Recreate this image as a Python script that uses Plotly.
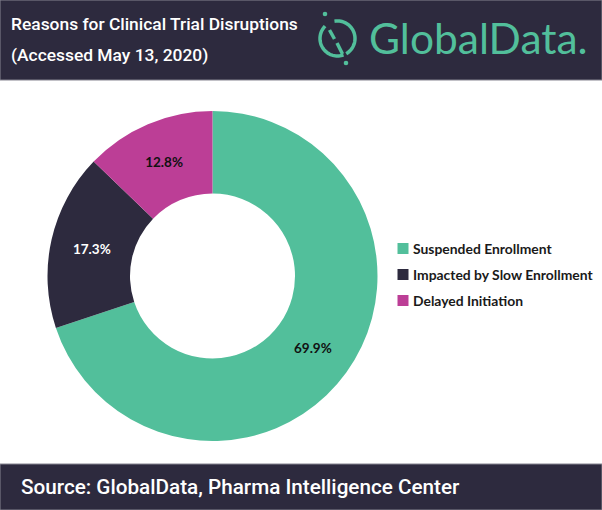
import numpy as np
import plotly.graph_objects as go

labels = ["Suspended Enrollment", "Impacted by Slow Enrollment", "Delayed Initiation"]
values = [69.9, 17.3, 12.8]
text_labels = ["69.9%", "17.3%", "12.8%"]
colors = ["#52BF9B", "#2D2A3E", "#BC3E96"]
label_colors = ["#111111", "#FFFFFF", "#111111"]

W, H = 602, 510
BG = "#2D2A3E"
GREEN = "#52BF9B"

def px(x):
    return x / W

def py(y):
    return 1 - y / H

cx, cy, R = 212.5, 276, 165

fig = go.Figure()
fig.add_trace(go.Pie(
    labels=labels, values=values, text=text_labels, textinfo="text",
    textposition="inside", insidetextorientation="horizontal",
    hole=0.5, sort=False, direction="clockwise", rotation=0,
    marker=dict(colors=colors, line=dict(width=0)),
    textfont=dict(color=label_colors, size=13.5, family="Lato", weight="bold"),
    domain=dict(x=[px(cx - R), px(cx + R)], y=[py(cy + R), py(cy - R)]),
    showlegend=False, hoverinfo="label+percent",
))

shapes = [
    dict(type="rect", xref="paper", yref="paper", x0=0, x1=1, y0=py(80), y1=1,
         fillcolor=BG, line=dict(color="#85838f", width=1), layer="below"),
    dict(type="rect", xref="paper", yref="paper", x0=0, x1=1, y0=0, y1=py(464),
         fillcolor=BG, line=dict(color="#85838f", width=1), layer="below"),
]

# logo icon: broken circle with slanted stroke and two dots
icx, icy, ir = 337.5, 38.5, 17.5
def arc(a0, a1, n=40):
    t = np.radians(np.linspace(a0, a1, n))
    xs = icx + ir * np.cos(t)
    ys = icy - ir * np.sin(t)
    return "M " + " L ".join(f"{px(x):.5f},{py(y):.5f}" for x, y in zip(xs, ys))

shapes.append(dict(type="path", xref="paper", yref="paper", path=arc(135, 290),
                   line=dict(color=GREEN, width=3.5)))
shapes.append(dict(type="path", xref="paper", yref="paper", path=arc(300, 460),
                   line=dict(color=GREEN, width=3.5)))
for (x0, y0, x1, y1) in [(329.5, 30, 334.5, 39), (337, 43, 342.5, 54)]:
    shapes.append(dict(type="line", xref="paper", yref="paper",
                       x0=px(x0), y0=py(y0), x1=px(x1), y1=py(y1),
                       line=dict(color=GREEN, width=3.5)))
for (dx, dy) in [(325, 14), (346, 63)]:
    shapes.append(dict(type="circle", xref="paper", yref="paper",
                       x0=px(dx - 2.3), x1=px(dx + 2.3), y0=py(dy + 2.3), y1=py(dy - 2.3),
                       fillcolor=GREEN, line=dict(width=0)))

annotations = [
    dict(text="Reasons for Clinical Trial Disruptions", x=px(9), y=py(24),
         font=dict(color="white", size=17.4, family="Roboto", weight=500)),
    dict(text="(Accessed May 13, 2020)", x=px(9), y=py(55),
         font=dict(color="white", size=17.4, family="Roboto", weight=500)),
    dict(text="GlobalData.", x=px(367), y=py(38),
         font=dict(color=GREEN, size=42.5, family="Lato", weight=400)),
    dict(text="Source: GlobalData, Pharma Intelligence Center", x=px(19), y=py(487),
         font=dict(color="white", size=20.7, family="Roboto", weight=500)),
]
for a in annotations:
    a.update(xref="paper", yref="paper", xanchor="left", yanchor="middle", showarrow=False)

# legend
for i, (lab, col) in enumerate(zip(labels, colors)):
    yc = 248.5 + i * 26
    shapes.append(dict(type="rect", xref="paper", yref="paper",
                       x0=px(397.5), x1=px(408.5), y0=py(yc + 5.5), y1=py(yc - 5.5),
                       fillcolor=col, line=dict(width=0)))
    annotations.append(dict(text=lab, x=px(410.5), y=py(yc), xref="paper", yref="paper",
                            xanchor="left", yanchor="middle", showarrow=False,
                            font=dict(color="#1a1a1a", size=13.9, family="Lato", weight="bold")))

fig.update_layout(
    width=W, height=H, margin=dict(l=0, r=0, t=0, b=0),
    paper_bgcolor="white", plot_bgcolor="white",
    shapes=shapes, annotations=annotations, showlegend=False,
)
fig.write_html("out.html", config={"displayModeBar": False},
               post_script="document.body.style.margin='0';document.body.style.overflow='hidden';")
